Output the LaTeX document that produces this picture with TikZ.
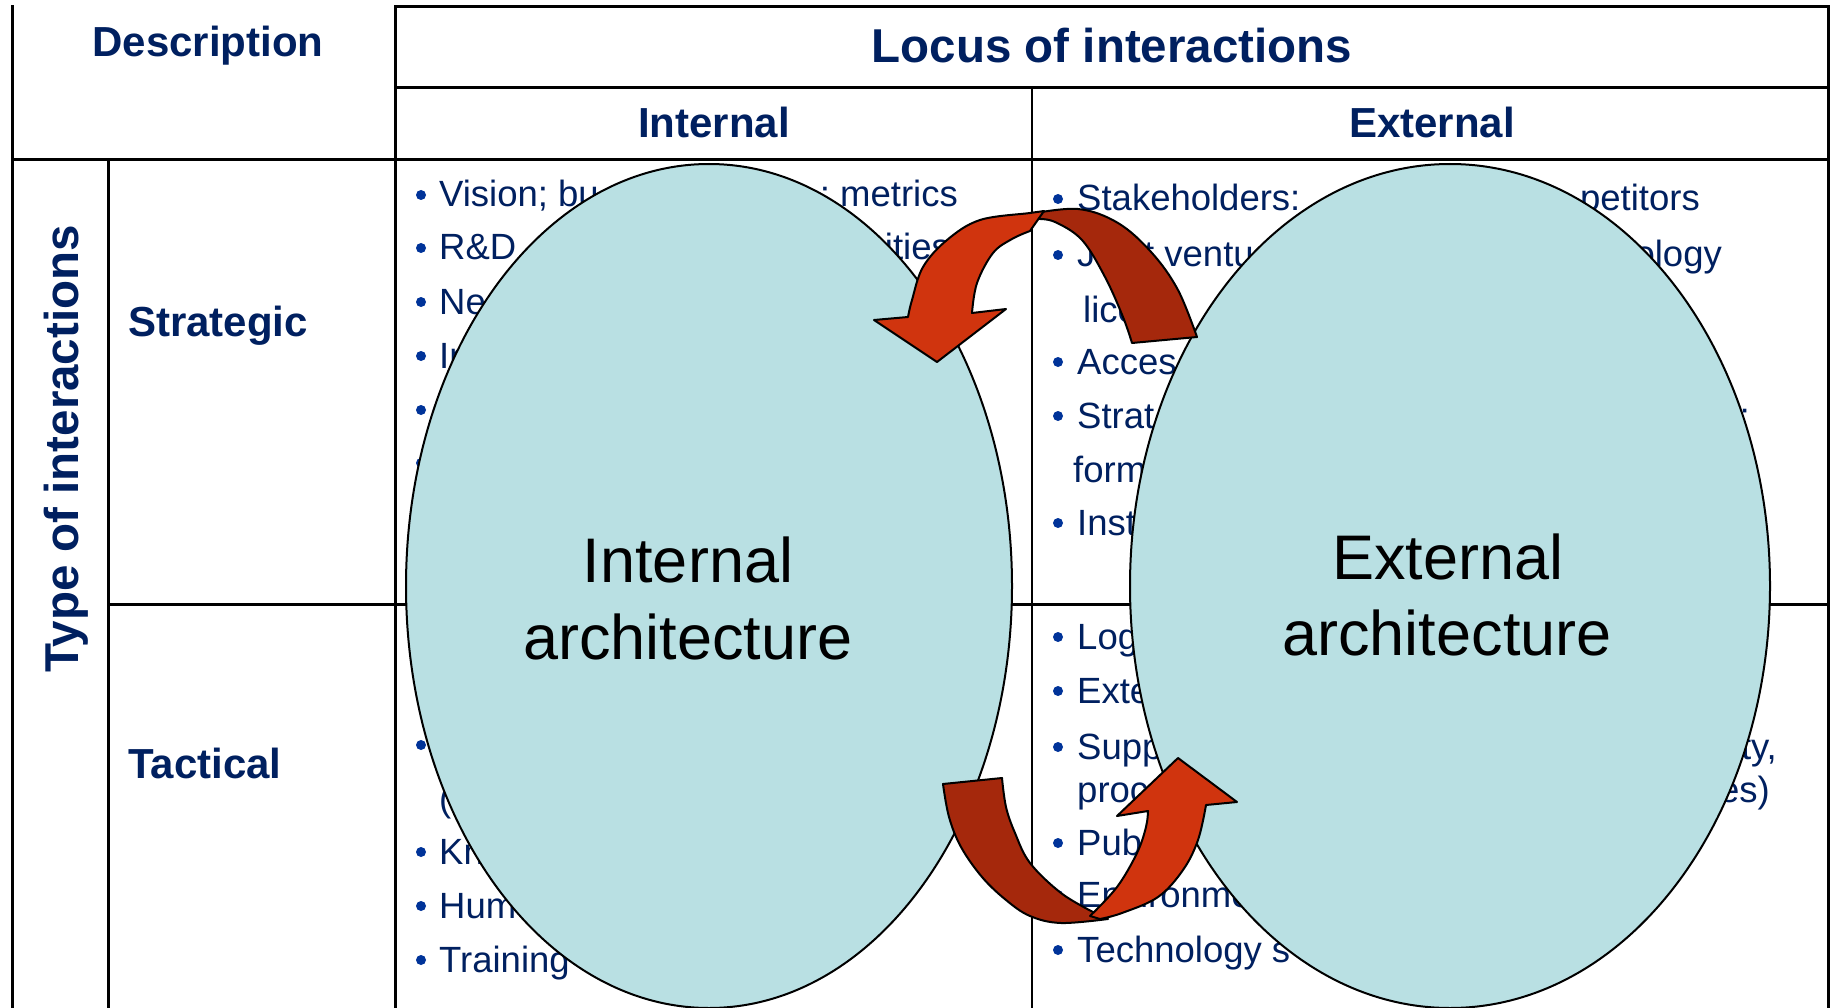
\documentclass[tikz,border=0pt]{standalone}
\usepackage{fontspec}
\setmainfont{Liberation Sans}
\usetikzlibrary{shapes.geometric}
\definecolor{navy}{RGB}{0,32,96}
\definecolor{bulletblue}{RGB}{0,51,153}
\definecolor{archfill}{RGB}{185,224,227}
\definecolor{arrowfront}{RGB}{208,52,14}
\definecolor{arrowback}{RGB}{165,40,12}

\begin{document}
\begin{tikzpicture}[x=1pt,y=-1pt,
  grid/.style={line width=3pt, black, line cap=rect},
  thin grid/.style={line width=2.4pt, black, line cap=rect},
  head/.style={font=\fontsize{42}{50}\selectfont\bfseries, text=navy, inner sep=0pt, anchor=base},
  title/.style={font=\fontsize{47.5}{56}\selectfont\bfseries, text=navy, inner sep=0pt, anchor=base},
  rowhead/.style={font=\fontsize{42}{50}\selectfont\bfseries, text=navy, inner sep=0pt, anchor=base west},
  body/.style={font=\fontsize{36.5}{44}\selectfont, text=navy, inner sep=0pt, anchor=base west},
  bodyr/.style={body, anchor=base east},
  dot/.style={fill=bulletblue},
  arch/.style={ellipse, draw=black, line width=2pt, fill=archfill, inner sep=0pt, outer sep=0pt},
  archtext/.style={font=\fontsize{63}{77}\selectfont, text=black, inner sep=0pt, anchor=base},
  front/.style={fill=arrowfront, draw=black, line width=2pt, line join=round},
  back/.style={fill=arrowback, draw=black, line width=2pt, line join=round},
]
\useasboundingbox (0,0) rectangle (1833,1008);
\fill[white] (0,0) rectangle (1833,1008);
\clip (0,0) rectangle (1833,1008);

% ---------- table rules ----------
\draw[grid] (395,7) -- (1828,7);
\draw[grid] (395,88) -- (1828,88);
\draw[grid] (12,160) -- (1828,160);
\draw[grid] (108,604) -- (1828,604);
\draw[grid] (12,7) -- (12,1012);
\draw[grid] (108,160) -- (108,1012);
\draw[grid] (395,7) -- (395,1012);
\draw[thin grid] (1032,88) -- (1032,1012);
\draw[grid] (1828,7) -- (1828,1012);

% ---------- headings ----------
\node[head] (hdesc) at (208,57) {Description};
\node[title] (hlocus) at (1112,63) {Locus of interactions};
\node[head] (hint) at (714,138) {Internal};
\node[head] (hext) at (1432,138) {External};
\node[title, rotate=90] (htype) at (78,449) {Type of interactions};
\node[rowhead] (hstrat) at (128,336) {Strategic};
\node[rowhead] (htact) at (128,778) {Tactical};

% ---------- internal / strategic ----------
\foreach \y in {207,260,314,368,422,475} \fill[dot] (421,\y-12) circle[radius=5];
\node[body] (is1) at (439,207) {Vision; bu};
\node[bodyr] (is1r) at (958,207) {; metrics};
\node[body] (is2) at (439,260) {R\&D};
\node[bodyr] (is2r) at (950,260) {ities};
\node[body] (is3) at (439,314) {Ne};
\node[body] (is4) at (439,368) {In};

% ---------- internal / tactical ----------
\foreach \y in {757,864,918,972} \fill[dot] (421,\y-12) circle[radius=5];
\node[body] (it1) at (439,811) {(};
\node[body] (it2) at (439,864) {Kn};
\node[body] (it3) at (439,918) {Hum};
\node[body] (it4) at (439,972) {Training};

% ---------- external / strategic ----------
\foreach \y in {211,267,374,428,535} \fill[dot] (1058,\y-12) circle[radius=5];
\node[body] (es1) at (1077,211) {Stakeholders:};
\node[bodyr] (es1r) at (1700,211) {petitors};
\node[body] (es2) at (1077,267) {Joint ventu};
\node[bodyr] (es2r) at (1722,267) {ology};
\node[body] (es3) at (1083,322) {licen};
\node[body] (es4) at (1077,374) {Acces};
\node[body] (es5) at (1077,428) {Strat};
\node[bodyr] (es5r) at (1750,428) {;};
\node[body] (es6) at (1073,482) {form};
\node[body] (es7) at (1077,535) {Inst};

% ---------- external / tactical ----------
\foreach \y in {649,703,759,855,907,962} \fill[dot] (1058,\y-12) circle[radius=5];
\node[body] (et1) at (1077,649) {Log};
\node[body] (et2) at (1077,703) {Exte};
\node[body] (et3) at (1077,759) {Supp};
\node[bodyr] (et3r) at (1777,759) {ty,};
\node[body] (et4) at (1077,802) {proc};
\node[bodyr] (et4r) at (1770,802) {es)};
\node[body] (et5) at (1077,855) {Pub};
\node[body] (et6) at (1077,907) {Environme};
\node[body] (et7) at (1077,962) {Technology s};

% ---------- the two architectures ----------
\node[arch, minimum width=606pt, minimum height=844pt] (intarch) at (709,586) {};
\node[arch, minimum width=640pt, minimum height=844pt] (extarch) at (1450,586) {};
\node[archtext] (intA) at (688,582) {Internal};
\node[archtext] (intB) at (688,659) {architecture};
\node[archtext] (extA) at (1448,579) {External};
\node[archtext] (extB) at (1447,655) {architecture};

% ---------- upper curved arrow (external -> internal) ----------
\filldraw[back] (1030,214) -- plot[smooth, tension=0.6] coordinates {(1030,214) (1078,209) (1118,223) (1152,253) (1178,290) (1197,337)}
  -- (1132,343) -- plot[smooth, tension=0.6] coordinates {(1132,343) (1123,317) (1105,277) (1082,240) (1055,222) (1038,219)} -- cycle;
\filldraw[front] (1044,211) -- plot[smooth, tension=0.6] coordinates {(1044,211) (1030,213) (980,220) (947,240) (923,267) (912,300) (908,317)}
  -- (874,320) -- (937,362) -- (1006,309) -- (972,313)
  -- plot[smooth, tension=0.6] coordinates {(972,313) (977,283) (993,253) (1012,239) (1030,231)} -- cycle;

% ---------- lower curved arrow (internal -> external) ----------
\filldraw[back] (943,784) -- (1002,778) -- plot[smooth, tension=0.6] coordinates {(1002,778) (1006,807) (1015,833) (1030,863) (1061,893) (1093,912)}
  -- (1108,919) -- plot[smooth, tension=0.6] coordinates {(1108,919) (1061,923) (1030,916) (1006,900) (982,877) (961,847) (949,817) (943,784)} -- cycle;
\filldraw[front] (1090,916) -- plot[smooth, tension=0.6] coordinates {(1090,916) (1117,887) (1137,853) (1146,827) (1148,811)}
  -- (1117,816) -- (1178,758) -- (1237,802) -- (1206,805)
  -- plot[smooth, tension=0.6] coordinates {(1206,805) (1198,840) (1183,870) (1158,897) (1122,913) (1100,919)} -- cycle;
\end{tikzpicture}
\end{document}
